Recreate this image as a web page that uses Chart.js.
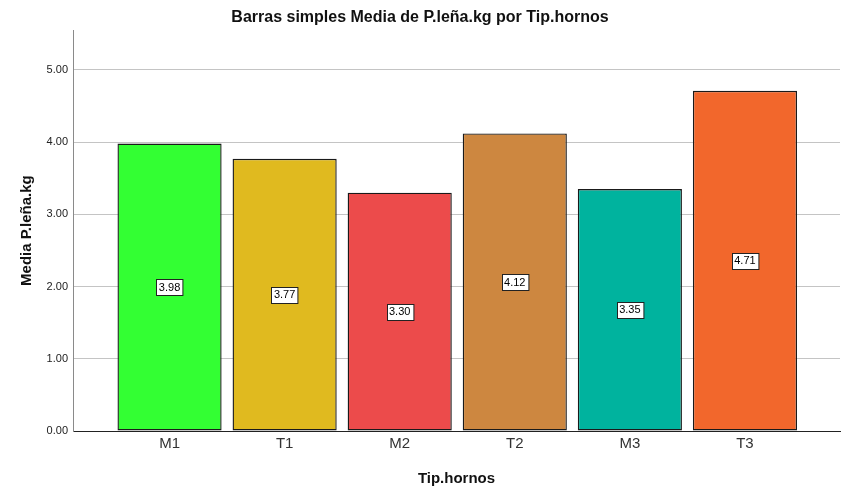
<!DOCTYPE html>
<html>
<head>
<meta charset="utf-8">
<script src="https://cdn.jsdelivr.net/npm/chart.js@4"></script>
<style>
  html, body { margin: 0; padding: 0; background: #fff; }
  #wrap { width: 851px; height: 501px; }
</style>
</head>
<body>
<div id="wrap"><canvas id="chart" width="851" height="501"></canvas></div>
<script>
const CATEGORIES = ["M1", "T1", "M2", "T2", "M3", "T3"]
const MEANS = [3.98, 3.77, 3.30, 4.12, 3.35, 4.71]
const BAR_COLORS = ["#33ff33", "#e0ba1f", "#ec4b4b", "#cd8740", "#00b39e", "#f2672c"]
const Y_TICKS = [0, 1, 2, 3, 4, 5]

const FONT_FAMILY = "Arial, 'Liberation Sans', sans-serif"

// white boxed value labels in the middle of each bar
const valueLabels = {
  id: "valueLabels",
  afterDatasetsDraw(chart) {
    const ctx = chart.ctx
    const meta = chart.getDatasetMeta(0)
    ctx.save()
    ctx.font = `11px ${FONT_FAMILY}`
    ctx.textAlign = "center"
    ctx.textBaseline = "middle"
    meta.data.forEach((bar, i) => {
      const text = MEANS[i].toFixed(2)
      const cy = (bar.y + bar.base) / 2
      const w = ctx.measureText(text).width + 5
      const h = 16
      const x0 = Math.round(bar.x - w / 2) + 0.5
      const y0 = Math.round(cy - h / 2) + 0.5
      ctx.fillStyle = "#ffffff"
      ctx.fillRect(x0, y0, w, h)
      ctx.strokeStyle = "#222"
      ctx.lineWidth = 1
      ctx.strokeRect(x0, y0, w, h)
      ctx.fillStyle = "#000"
      ctx.fillText(text, bar.x, cy + 0.5)
    })
    ctx.restore()
  },
}

new Chart(document.getElementById("chart"), {
  type: "bar",
  data: {
    datasets: [
      {
        data: CATEGORIES.map((_, i) => ({ x: i, y: MEANS[i] })),
        backgroundColor: BAR_COLORS,
        borderColor: "#1a1a1a",
        borderWidth: 1.4,
        borderSkipped: false,
        categoryPercentage: 1,
        barPercentage: 0.905,
      },
    ],
  },
  options: {
    responsive: false,
    animation: false,
    layout: { padding: { left: 0, right: 11, top: 0, bottom: 0 } },
    scales: {
      x: {
        type: "linear",
        offset: false,
        min: -0.839,
        max: 5.826,
        afterBuildTicks: (axis) => {
          axis.ticks = CATEGORIES.map((_, i) => ({ value: i }))
        },
        afterFit: (axis) => { axis.height = 70 },
        ticks: {
          callback: (v) => CATEGORIES[v] ?? "",
          color: "#333",
          font: { family: FONT_FAMILY, size: 15 },
          padding: 4,
          maxRotation: 0,
        },
        grid: { display: false, drawTicks: false, offset: false },
        border: { color: "#222", width: 1 },
        title: {
          display: true,
          text: "Tip.hornos",
          color: "#111",
          font: { family: FONT_FAMILY, size: 15, weight: "bold" },
          padding: { top: 0, bottom: 13 },
        },
      },
      y: {
        min: 0,
        max: 5.55,
        afterBuildTicks: (axis) => {
          axis.ticks = Y_TICKS.map((v) => ({ value: v }))
        },
        afterFit: (axis) => { axis.width = 73 },
        ticks: {
          callback: (v) => v.toFixed(2),
          color: "#222",
          font: { family: FONT_FAMILY, size: 11 },
          padding: 5,
        },
        grid: {
          color: (c) => (c.tick && c.tick.value === 0 ? "rgba(0,0,0,0)" : "#c4c4c4"),
          drawTicks: false,
        },
        border: { color: "#8a8a8a", width: 1 },
        title: {
          display: true,
          text: "Media P.leña.kg",
          color: "#111",
          font: { family: FONT_FAMILY, size: 15, weight: "bold" },
          padding: { top: 18, bottom: 0 },
        },
      },
    },
    plugins: {
      legend: { display: false },
      tooltip: { enabled: false },
      title: {
        display: true,
        text: "Barras simples Media de P.leña.kg por Tip.hornos",
        color: "#111",
        font: { family: FONT_FAMILY, size: 16, weight: "bold" },
        padding: { top: 8, bottom: 3 },
      },
    },
  },
  plugins: [valueLabels],
})
</script>
</body>
</html>
